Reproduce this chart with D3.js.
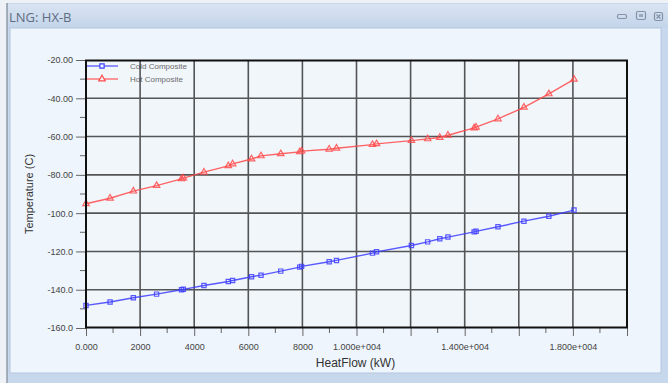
<!DOCTYPE html>
<html>
<head>
<meta charset="utf-8">
<script src="https://cdn.jsdelivr.net/npm/d3@7/dist/d3.min.js"></script>
<style>
  html, body { margin: 0; padding: 0; background: #eef2f7; }
  svg { display: block; }
  text { font-family: "Liberation Sans", Arial, sans-serif; }
</style>
</head>
<body>
<svg id="chart" width="668" height="383"></svg>
<script>
// Composite curves for exchanger HX-B
const heatFlow = [0, 890, 1750, 2610, 3530, 3600, 4360, 5260, 5420, 6120, 6470, 7200, 7900, 7970,
  8990, 9260, 10590, 10740, 12030, 12630, 13080, 13380, 14350, 14420, 15230, 16190, 17110, 18040];
const coldTemp = [-148.2, -146.4, -144.2, -142.3, -140.0, -139.8, -137.8, -135.7, -135.2, -133.2,
  -132.4, -130.3, -128.2, -127.8, -125.4, -124.7, -120.9, -120.2, -116.9, -115.0, -113.4, -112.5,
  -109.8, -109.5, -107.1, -104.2, -101.6, -98.4];
const hotTemp = [-95.1, -92.2, -88.5, -85.6, -82.1, -81.7, -78.6, -75.3, -74.3, -71.7, -70.1,
  -69.0, -68.0, -67.6, -66.6, -66.1, -64.2, -63.8, -62.1, -61.2, -60.5, -59.3, -55.5, -55.1,
  -50.8, -44.7, -37.7, -30.1];

const seriesNames = ["Cold Composite", "Hot Composite"];

const yMajorTicks = [-160, -140, -120, -100, -80, -60, -40, -20];
const yTickLabels = ["-160.0", "-140.0", "-120.0", "-100.0", "-80.00", "-60.00", "-40.00", "-20.00"];
const yMinorTicks = [-150, -130, -110, -90, -70, -50, -30];

const xMajorTicks = [0, 2000, 4000, 6000, 8000, 10000, 12000, 14000, 16000, 18000, 20000];
const xMinorTicks = [1000, 3000, 5000, 7000, 9000, 11000, 13000, 15000, 17000, 19000];
const xLabelValues = [0, 2000, 4000, 6000, 8000, 10000, 14000, 18000];
const xLabelTexts = ["0.000", "2000", "4000", "6000", "8000", "1.000e+004", "1.400e+004", "1.800e+004"];

const windowTitle = "LNG: HX-B";
const xTitle = "HeatFlow (kW)";
const yTitle = "Temperature (C)";

const svg = d3.select("#chart");
const W = 668, H = 383;

// ---- window chrome ----
const defs = svg.append("defs");
const tg = defs.append("linearGradient").attr("id", "titleGrad")
  .attr("x1", 0).attr("y1", 0).attr("x2", 0).attr("y2", 1);
tg.append("stop").attr("offset", "0%").attr("stop-color", "#d9e4f2");
tg.append("stop").attr("offset", "100%").attr("stop-color", "#c3d4ea");

svg.append("rect").attr("x", 0).attr("y", 0).attr("width", W).attr("height", H).attr("fill", "#eef2f7");
svg.append("rect").attr("x", 7).attr("y", 3).attr("width", W - 7).attr("height", H - 3)
  .attr("fill", "#c8d8ec");
svg.append("line").attr("x1", 7).attr("x2", 7).attr("y1", 3).attr("y2", H)
  .attr("stroke", "#8f9aa8").attr("stroke-width", 1.5);
svg.append("rect").attr("x", 8).attr("y", 4).attr("width", W - 8).attr("height", 24)
  .attr("fill", "url(#titleGrad)");
svg.append("rect").attr("x", 10).attr("y", 28).attr("width", 651).attr("height", 345)
  .attr("fill", "#eef5fd").attr("stroke", "#b3c6de").attr("stroke-width", 1);

svg.append("text").attr("x", 9).attr("y", 22)
  .style("font-family", "'Open Sans', 'Noto Sans', sans-serif")
  .attr("font-size", 13).attr("fill", "#5e6c80").text(windowTitle);

// window buttons
const btn = svg.append("g").attr("fill", "none").attr("stroke", "#8392a6");
btn.append("rect").attr("x", 617.5).attr("y", 14.5).attr("width", 9).attr("height", 4).attr("rx", 1.5)
  .attr("stroke-width", 1.2);
btn.append("rect").attr("x", 636.5).attr("y", 11.5).attr("width", 9).attr("height", 8).attr("rx", 1.5)
  .attr("stroke-width", 1.2);
btn.append("rect").attr("x", 639).attr("y", 14).attr("width", 4).attr("height", 3)
  .attr("fill", "#9aa9bc").attr("stroke", "none");
btn.append("rect").attr("x", 654.5).attr("y", 12.5).attr("width", 8).attr("height", 8).attr("rx", 1.5)
  .attr("stroke-width", 1.2);
btn.append("path").attr("d", "M656.5,14.5 L660.5,18.5 M660.5,14.5 L656.5,18.5").attr("stroke-width", 1.2);

// ---- plot ----
const plot = { left: 86, right: 627, top: 60, bottom: 328 };
const x = d3.scaleLinear().domain([0, 20000]).range([plot.left, plot.right]);
const y = d3.scaleLinear().domain([-160, -20]).range([plot.bottom, plot.top]);

svg.append("rect").attr("x", plot.left).attr("y", plot.top)
  .attr("width", plot.right - plot.left).attr("height", plot.bottom - plot.top)
  .attr("fill", "#f1f6fb");

const blue = "#3d3dff", red = "#ff4a4a";

// legend
const legend = svg.append("g");
const legendItems = [
  { name: seriesNames[0], color: blue, shape: d3.symbolSquare, y: 66 },
  { name: seriesNames[1], color: red, shape: d3.symbolTriangle, y: 79 }
];
legendItems.forEach(it => {
  legend.append("line").attr("x1", 87).attr("x2", 118).attr("y1", it.y).attr("y2", it.y)
    .attr("stroke", it.color).attr("stroke-width", 1.3).attr("opacity", 0.85);
  legend.append("path").attr("d", d3.symbol().type(it.shape).size(18)())
    .attr("transform", `translate(102,${it.y})`)
    .attr("fill", "#f1f6fb").attr("stroke", it.color).attr("stroke-width", 1.2);
  legend.append("text").attr("x", 130).attr("y", it.y + 3)
    .attr("font-size", 8).attr("fill", "#6b6b6b").text(it.name);
});

// grid
const grid = svg.append("g").attr("stroke", "#2e2e2e").attr("stroke-width", 1.6).attr("opacity", 0.8);
grid.selectAll(".gx").data(xMajorTicks.filter(v => v > 0 && v < 20000)).join("line")
  .attr("x1", d => x(d)).attr("x2", d => x(d)).attr("y1", plot.top).attr("y2", plot.bottom);
grid.selectAll(".gy").data(yMajorTicks.filter(v => v > -160 && v < -20)).join("line")
  .attr("x1", plot.left).attr("x2", plot.right).attr("y1", d => y(d)).attr("y2", d => y(d));

// axes
const labelMap = new Map(xLabelValues.map((v, i) => [v, xLabelTexts[i]]));
const xAxis = svg.append("g").attr("transform", `translate(0,${plot.bottom})`)
  .call(d3.axisBottom(x).tickValues(xMajorTicks).tickSize(8).tickPadding(8)
    .tickFormat(d => labelMap.get(d) || ""));
xAxis.append("g").selectAll("line").data(xMinorTicks).join("line")
  .attr("x1", d => x(d)).attr("x2", d => x(d)).attr("y1", 0).attr("y2", 5);

const yLabelMap = new Map(yMajorTicks.map((v, i) => [v, yTickLabels[i]]));
const yAxis = svg.append("g").attr("transform", `translate(${plot.left},0)`)
  .call(d3.axisLeft(y).tickValues(yMajorTicks).tickSize(10).tickPadding(3)
    .tickFormat(d => yLabelMap.get(d)));
yAxis.append("g").selectAll("line").data(yMinorTicks).join("line")
  .attr("x1", 0).attr("x2", -6).attr("y1", d => y(d)).attr("y2", d => y(d));

[xAxis, yAxis].forEach(a => {
  a.select(".domain").remove();
  a.selectAll("line").attr("stroke", "#666").attr("stroke-width", 1);
  a.selectAll("text").attr("font-size", 9).attr("fill", "#444")
    .style("font-family", "'Liberation Sans', Arial, sans-serif");
});

// axis titles
svg.append("text").attr("x", (plot.left + plot.right) / 2 - 1).attr("y", 367)
  .attr("text-anchor", "middle").attr("font-size", 12).attr("fill", "#333").text(xTitle);
svg.append("text").attr("transform", `translate(33,${(plot.top + plot.bottom) / 2}) rotate(-90)`)
  .attr("text-anchor", "middle").attr("font-size", 11).attr("fill", "#333").text(yTitle);

// series
const series = [
  { values: coldTemp, color: blue, shape: d3.symbolSquare, size: 18 },
  { values: hotTemp, color: red, shape: d3.symbolTriangle, size: 18 }
];
const line = d3.line().x(d => x(d[0])).y(d => y(d[1]));
series.forEach(s => {
  const pts = heatFlow.map((h, i) => [h, s.values[i]]);
  svg.append("path").datum(pts).attr("d", line)
    .attr("fill", "none").attr("stroke", s.color).attr("stroke-width", 1.4).attr("opacity", 0.85);
  svg.append("g").selectAll("path").data(pts).join("path")
    .attr("d", d3.symbol().type(s.shape).size(s.size)())
    .attr("transform", d => `translate(${x(d[0])},${y(d[1])})`)
    .attr("fill", "none").attr("stroke", s.color).attr("stroke-width", 1.2).attr("opacity", 0.85);
});

// frame
svg.append("rect").attr("x", plot.left).attr("y", plot.top + 0.5)
  .attr("width", plot.right - plot.left).attr("height", plot.bottom - plot.top - 1)
  .attr("fill", "none").attr("stroke", "#111").attr("stroke-width", 2);
</script>
</body>
</html>
